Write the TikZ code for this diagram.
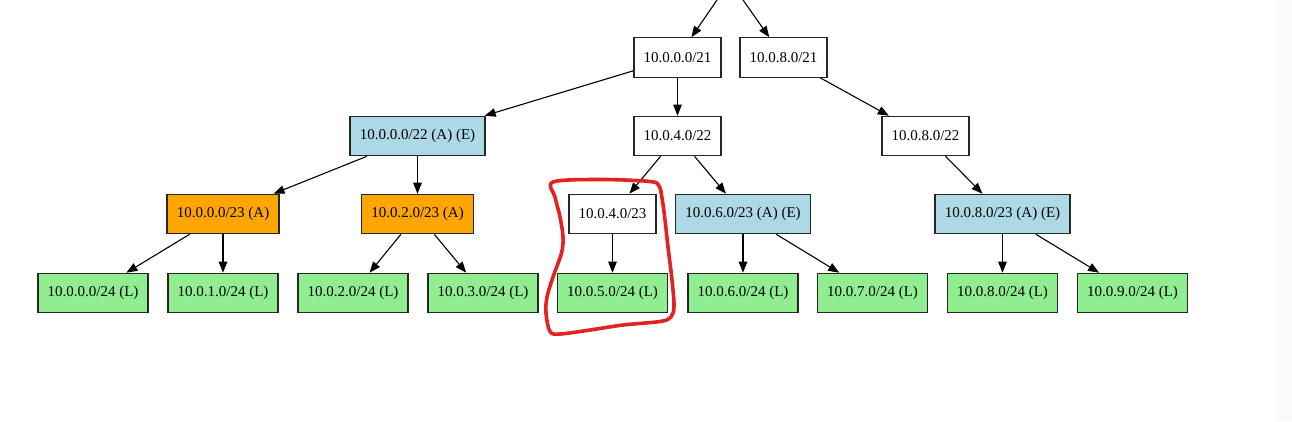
\documentclass[tikz,border=0pt]{standalone}
\usepackage{fontspec}
\setmainfont{Liberation Serif}
\usetikzlibrary{arrows.meta}
\definecolor{lblue}{HTML}{ADD8E6}
\definecolor{lorange}{HTML}{FFA500}
\definecolor{lgreen}{HTML}{90EE90}
\definecolor{annot}{HTML}{E32222}
\definecolor{strip}{HTML}{FAFAFA}
\tikzset{
  box/.style={draw=black!85, line width=1.1pt, minimum height=39.5pt, inner sep=0pt,
    font=\fontsize{15}{18}\selectfont, text=black},
  plainbox/.style={box, fill=white, minimum width=87pt},
  abox/.style={box, fill=lorange, minimum width=112pt},
  aebox/.style={box, fill=lblue, minimum width=135pt},
  leafbox/.style={box, fill=lgreen, minimum width=110pt},
  edge/.style={draw=black, line width=1.1pt, -{Triangle[length=11pt,width=8.5pt]}},
  loop/.style={draw=annot, line width=3.6pt, line join=round, line cap=round}
}
\begin{document}
\begin{tikzpicture}[x=1pt,y=-1pt]
\useasboundingbox[fill=white] (0,0) rectangle (1292,421);
\fill[strip] (1277,0) rectangle (1292,421);

% row 1
\node[plainbox] (n21a) at (677.5,57.5) {10.0.0.0/21};
\node[plainbox] (n21b) at (783.5,57.5) {10.0.8.0/21};
% row 2
\node[aebox] (n22a) at (417.5,136) {10.0.0.0/22 (A) (E)};
\node[plainbox] (n22c) at (677.5,136) {10.0.4.0/22};
\node[plainbox] (n22d) at (925.5,136) {10.0.8.0/22};
% row 3
\node[abox] (n23a) at (223,214) {10.0.0.0/23 (A)};
\node[abox] (n23b) at (417.5,214) {10.0.2.0/23 (A)};
\node[plainbox] (n23c) at (612.5,214) {10.0.4.0/23};
\node[aebox] (n23d) at (743,214) {10.0.6.0/23 (A) (E)};
\node[aebox] (n23e) at (1002.5,214) {10.0.8.0/23 (A) (E)};
% row 4
\node[leafbox] (l0) at (93,293) {10.0.0.0/24 (L)};
\node[leafbox] (l1) at (223,293) {10.0.1.0/24 (L)};
\node[leafbox] (l2) at (353,293) {10.0.2.0/24 (L)};
\node[leafbox] (l3) at (483,293) {10.0.3.0/24 (L)};
\node[leafbox] (l5) at (612.5,293) {10.0.5.0/24 (L)};
\node[leafbox] (l6) at (743,293) {10.0.6.0/24 (L)};
\node[leafbox] (l7) at (872.5,293) {10.0.7.0/24 (L)};
\node[leafbox] (l8) at (1002.5,293) {10.0.8.0/24 (L)};
\node[leafbox] (l9) at (1132.5,293) {10.0.9.0/24 (L)};

\coordinate (top1) at (717,0);
\coordinate (top2) at (743,0);

\path[edge] (top1) -- (n21a);
\path[edge] (top2) -- (n21b);
\path[edge] (n21a) -- (n22a);
\path[edge] (n21a) -- (n22c);
\path[edge] (n21b) -- (n22d);
\path[edge] (n22a) -- (n23a);
\path[edge] (n22a) -- (n23b);
\path[edge] (n22c) -- (n23c);
\path[edge] (n22c) -- (n23d);
\path[edge] (n22d) -- (n23e);
\path[edge] (n23a) -- (l0);
\path[edge] (n23a) -- (l1);
\path[edge] (n23b) -- (l2);
\path[edge] (n23b) -- (l3);
\path[edge] (n23c) -- (l5);
\path[edge] (n23d) -- (l6);
\path[edge] (n23d) -- (l7);
\path[edge] (n23e) -- (l8);
\path[edge] (n23e) -- (l9);

% hand-drawn red annotation loop
\draw[loop] plot[smooth cycle, tension=0.55] coordinates {
  (553,182) (600,179.5) (650,181.5) (659,186) (662,198) (665,220) (668,247)
  (672,280) (674,306) (671,317) (660,321.5) (623,325) (590,330) (560,334)
  (550,331.5) (546,313) (547,297) (553,277) (561.5,253) (563,237) (560,217)
  (555,197)};
\end{tikzpicture}
\end{document}
